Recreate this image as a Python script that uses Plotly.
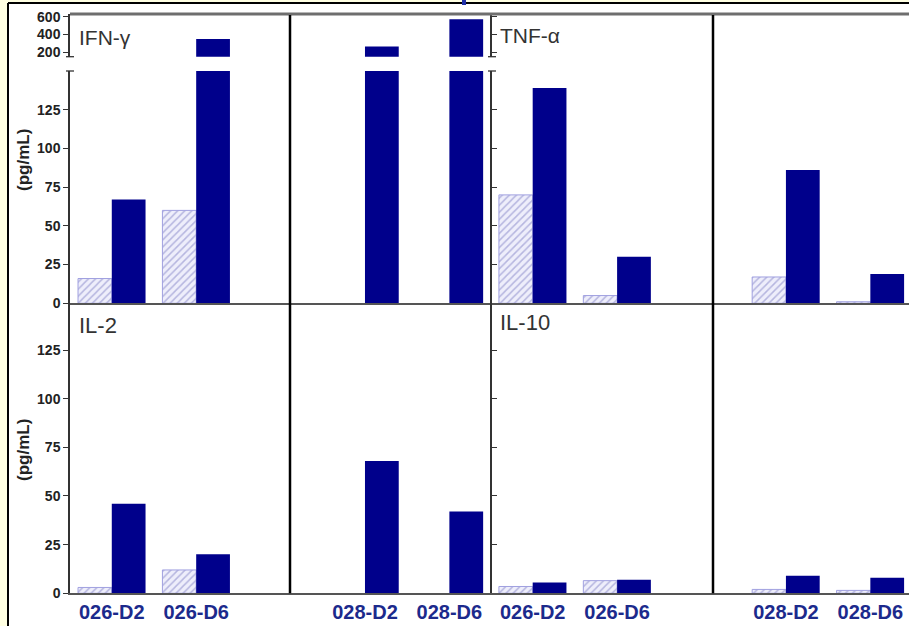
import plotly.graph_objects as go

# ---- data -------------------------------------------------------------
GROUPS = ["026-D2", "026-D6", "028-D2", "028-D6"]
SLOTS = [0.5, 1.5, 3.5, 4.5]          # slot 2.5 left empty between donors

IFN_PRE = [16, 60, 0, 0]
IFN_POST = [67, 350, 265, 570]
TNF_PRE = [70, 5, 17, 1]
TNF_POST = [139, 30, 86, 19]
IL2_PRE = [3, 12, 0, 0]
IL2_POST = [46, 20, 68, 42]
IL10_PRE = [3.5, 6.5, 2, 1.5]
IL10_POST = [5.5, 7, 9, 8]

LOWER_TICKS = [0, 25, 50, 75, 100, 125]
UPPER_TICKS = [200, 400, 600]

# ---- styling ------------------------------------------------------------
W, H = 909, 626
FONT = "Arial, 'Liberation Sans', sans-serif"
NAVY = "#00008B"
LABEL_NAVY = "#1c2a8c"
HATCH_BG = "#eeeefb"
HATCH_FG = "#7c7cc4"
HATCH_EDGE = "#a0a0e0"
BAR_W = 0.40


def fx(px):
    return px / W


def fy(py):
    return 1 - py / H


fig = go.Figure()


def add_pair(pre, post, xa, ya):
    # no outline on empty (zero) bars
    edge_w = [1 if v > 0 else 0 for v in pre]
    fig.add_trace(go.Bar(
        x=SLOTS, y=pre, xaxis=xa, yaxis=ya, width=BAR_W, offset=-BAR_W,
        marker=dict(color=HATCH_BG, line=dict(color=HATCH_EDGE, width=edge_w),
                    pattern=dict(shape="/", fgcolor=HATCH_FG, size=5, solidity=0.3)),
        showlegend=False, hoverinfo="skip"))
    fig.add_trace(go.Bar(
        x=SLOTS, y=post, xaxis=xa, yaxis=ya, width=BAR_W, offset=0,
        marker=dict(color=NAVY, line=dict(width=0)),
        showlegend=False, hoverinfo="skip"))


# top row: lower and upper (broken) segments
add_pair(IFN_PRE, IFN_POST, "x", "y")
add_pair(IFN_PRE, IFN_POST, "x", "y2")
add_pair(TNF_PRE, TNF_POST, "x2", "y3")
add_pair(TNF_PRE, TNF_POST, "x2", "y4")
# bottom row
add_pair(IL2_PRE, IL2_POST, "x3", "y5")
add_pair(IL10_PRE, IL10_POST, "x4", "y6")

LEFT_X = [fx(70), fx(492)]
RIGHT_X = [fx(492), 1.0]
LEFT_RANGE = [0.005, 5.005]
RIGHT_RANGE = [0.018, 4.958]

xbase = dict(showline=True, linecolor="#555555", linewidth=2, showgrid=False,
             zeroline=False, ticks="", fixedrange=True, automargin=False)
xlab = dict(tickvals=SLOTS, ticktext=GROUPS,
            tickfont=dict(family=FONT, size=20, color=LABEL_NAVY, weight="bold"))

ybase = dict(showline=True, linecolor="#333333", linewidth=1.5, showgrid=False,
             zeroline=False, ticklen=5, tickwidth=1.3, tickcolor="#333333",
             automargin=False,
             tickfont=dict(family=FONT, size=14, color="#222222", weight="bold"))
yleft = dict(ybase, ticks="outside", showticklabels=True)
yright = dict(ybase, ticks="inside", showticklabels=False)

TOP_LOW = [fy(303.3), fy(71)]
TOP_UP = [fy(56.7), fy(14)]
BOTTOM = [fy(593.3), fy(303.3)]

fig.update_layout(
    width=W, height=H, margin=dict(l=0, r=0, t=0, b=0, autoexpand=False),
    paper_bgcolor="#FFFFE2", plot_bgcolor="rgba(0,0,0,0)",
    barmode="overlay", font=dict(family=FONT),
    xaxis=dict(xbase, domain=LEFT_X, range=LEFT_RANGE, anchor="y", showticklabels=False),
    xaxis2=dict(xbase, domain=RIGHT_X, range=RIGHT_RANGE, anchor="y3", showticklabels=False),
    xaxis3=dict(xbase, **xlab, domain=LEFT_X, range=LEFT_RANGE, anchor="y5"),
    xaxis4=dict(xbase, **xlab, domain=RIGHT_X, range=RIGHT_RANGE, anchor="y6"),
    yaxis=dict(yleft, domain=TOP_LOW, range=[0, 150], anchor="x", tickvals=LOWER_TICKS),
    yaxis2=dict(yleft, domain=TOP_UP, range=[150, 630], anchor="x", tickvals=UPPER_TICKS),
    yaxis3=dict(yright, domain=TOP_LOW, range=[0, 150], anchor="x2", tickvals=LOWER_TICKS),
    yaxis4=dict(yright, domain=TOP_UP, range=[150, 630], anchor="x2", tickvals=UPPER_TICKS),
    yaxis5=dict(yleft, domain=BOTTOM, range=[0, 149], anchor="x3", tickvals=LOWER_TICKS),
    yaxis6=dict(yright, domain=BOTTOM, range=[0, 149], anchor="x4", tickvals=LOWER_TICKS),
)

shapes = []
# white page with black left/top frame
shapes.append(dict(type="rect", xref="paper", yref="paper", x0=fx(8), x1=1.01, y0=-0.01, y1=fy(3),
                   fillcolor="white", line=dict(width=0), layer="below"))
shapes.append(dict(type="line", xref="paper", yref="paper", x0=fx(8), x1=fx(8), y0=-0.01, y1=fy(3),
                   line=dict(color="black", width=2)))
shapes.append(dict(type="line", xref="paper", yref="paper", x0=fx(8), x1=1.01, y0=fy(3), y1=fy(3),
                   line=dict(color="black", width=2)))
# small blue marker on the top edge
shapes.append(dict(type="rect", xref="paper", yref="paper", x0=fx(462), x1=fx(466), y0=fy(5), y1=1,
                   fillcolor="#1f2fa8", line=dict(width=0)))
# grey rule across the top of the panels
shapes.append(dict(type="line", xref="paper", yref="paper", x0=fx(70), x1=1.01, y0=fy(14), y1=fy(14),
                   line=dict(color="#6e6e6e", width=3)))
# donor dividers
for xd in (290, 713):
    shapes.append(dict(type="line", xref="paper", yref="paper", x0=fx(xd), x1=fx(xd),
                       y0=fy(593.3), y1=fy(15), line=dict(color="black", width=2.5)))
# axis-break caps
for xa in (70, 492):
    for yb in (56.7, 71):
        shapes.append(dict(type="line", xref="paper", yref="paper", x0=fx(xa - 4), x1=fx(xa + 4),
                           y0=fy(yb), y1=fy(yb), line=dict(color="#333333", width=1.3)))
fig.update_layout(shapes=shapes)

annotations = []
for text, xp, yp, size in (("IFN-\u03b3", 77, 37, 21), ("TNF-\u03b1", 498, 35, 21),
                            ("IL-2", 77, 325, 22), ("IL-10", 498, 322, 22)):
    annotations.append(dict(text=text, xref="paper", yref="paper", x=fx(xp), y=fy(yp),
                            xanchor="left", yanchor="middle", showarrow=False,
                            font=dict(family=FONT, size=size, color="#333333")))
for yc in (160, 450):
    annotations.append(dict(text="(pg/mL)", xref="paper", yref="paper", x=fx(23), y=fy(yc),
                            xanchor="center", yanchor="middle", textangle=-90, showarrow=False,
                            font=dict(family=FONT, size=17, color="#222222", weight="bold")))
fig.update_layout(annotations=annotations)

fig.write_html("out.html")
